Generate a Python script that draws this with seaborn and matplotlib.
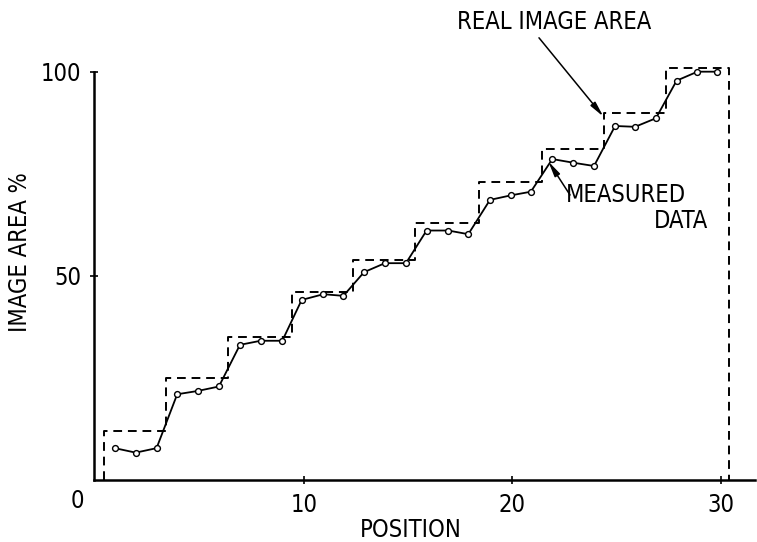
import numpy as np
import pandas as pd
import matplotlib
matplotlib.use("Agg")
import matplotlib.pyplot as plt
from matplotlib import font_manager as fm
import seaborn as sns

# ---- data ----
measured_pos = [0.93, 1.93, 2.93, 3.92, 4.90, 5.92, 6.93, 7.92, 8.96, 9.89,
                10.93, 11.89, 12.88, 13.88, 14.89, 15.88, 16.92, 17.88, 18.92, 19.91,
                20.88, 21.91, 22.92, 23.91, 24.92, 25.88, 26.88, 27.87, 28.87, 29.83]
measured_val = [7.8, 6.7, 7.8, 21.0, 21.8, 22.9, 33.1, 34.1, 34.1, 44.1,
                45.5, 45.1, 50.9, 53.1, 53.1, 61.1, 61.1, 60.2, 68.6, 69.7,
                70.6, 78.6, 77.7, 76.9, 86.7, 86.5, 88.6, 97.8, 100.0, 100.0]
step_edges = [0.41, 3.38, 6.37, 9.41, 12.37, 15.32, 18.41, 21.40, 24.39, 27.36, 30.40]
step_levels = [12, 25, 35, 46, 54, 63, 73, 81, 90, 101]
x_ticks = [10, 20, 30]
x_ticklabels = ["10", "20", "30"]
y_ticks = [50, 100]
y_ticklabels = ["50", "100"]

# ---- font choice: condensed face if present ----
def pick_font():
    entries = fm.fontManager.ttflist
    for e in entries:
        if e.name == "DejaVu Sans" and "condensed" in str(e.stretch):
            return dict(family="DejaVu Sans", stretch="condensed"), True
    for e in entries:
        if e.name == "Liberation Sans Narrow":
            return dict(family="Liberation Sans Narrow"), True
    return dict(family="DejaVu Sans"), False

sns.set_style("ticks")
fontkw, condensed = pick_font()
FS = 17 if condensed else 15.5
plt.rcParams["font.family"] = [fontkw["family"], "DejaVu Sans"]
if "stretch" in fontkw:
    plt.rcParams["font.stretch"] = fontkw["stretch"]
plt.rcParams["text.color"] = "black"
plt.rcParams["axes.labelcolor"] = "black"

fig = plt.figure(figsize=(7.57, 5.42), dpi=100)
ax = fig.add_axes([94 / 757, 62 / 542, 661 / 757, 412.4 / 542])

# step outline of the real image area
sx = [step_edges[0]] + step_edges
sy = [0] + step_levels + [0]
steps = pd.DataFrame({"x": sx, "y": sy})
sns.lineplot(data=steps, x="x", y="y", ax=ax, estimator=None, sort=False,
             drawstyle="steps-post", color="black", lw=1.4,
             linestyle=(0, (4.5, 3.0)), clip_on=False)

meas = pd.DataFrame({"pos": measured_pos, "val": measured_val})
sns.lineplot(data=meas, x="pos", y="val", ax=ax, estimator=None, sort=False,
             color="black", lw=1.3, marker="o", markersize=4.2,
             markerfacecolor="white", markeredgecolor="black", markeredgewidth=1.0,
             clip_on=False)

ax.set_xlim(-0.07, 31.63)
ax.set_ylim(0, 101)
for s in ("top", "right"):
    ax.spines[s].set_visible(False)
for s in ("left", "bottom"):
    ax.spines[s].set_linewidth(1.8)
    ax.spines[s].set_color("black")
ax.spines["left"].set_bounds(0, 100)

ax.set_xticks(x_ticks)
ax.set_xticklabels(x_ticklabels)
ax.set_yticks(y_ticks)
ax.set_yticklabels(y_ticklabels)
ax.tick_params(axis="both", direction="inout", length=6, width=1.2,
               labelsize=FS, colors="black")
ax.tick_params(axis="x", pad=6)
ax.tick_params(axis="y", pad=6)

ax.set_xlabel("POSITION", fontsize=FS, color="black")
ax.set_ylabel("IMAGE AREA %", fontsize=FS, color="black")
ax.xaxis.set_label_coords(0.48, -0.092)
ax.yaxis.set_label_coords(-0.094, 0.553)

# origin label
ax.text(-0.89, -5.1, "0", fontsize=FS, ha="center", va="center", clip_on=False)

arrow = dict(arrowstyle="-|>,head_length=0.9,head_width=0.18", color="black",
             lw=1.1, shrinkA=0, shrinkB=0)
ax.annotate("", xy=(24.36, 89.0), xytext=(21.27, 108.3), arrowprops=arrow,
            annotation_clip=False)
ax.text(21.99, 112.2, "REAL IMAGE AREA", fontsize=FS, ha="center", va="center",
        clip_on=False)
ax.annotate("", xy=(21.72, 78.0), xytext=(22.76, 69.8), arrowprops=arrow,
            annotation_clip=False)
ax.text(25.44, 69.8, "MEASURED", fontsize=FS, ha="center", va="center")
ax.text(28.08, 63.4, "DATA", fontsize=FS, ha="center", va="center")

fig.savefig("out.png", dpi=100)
